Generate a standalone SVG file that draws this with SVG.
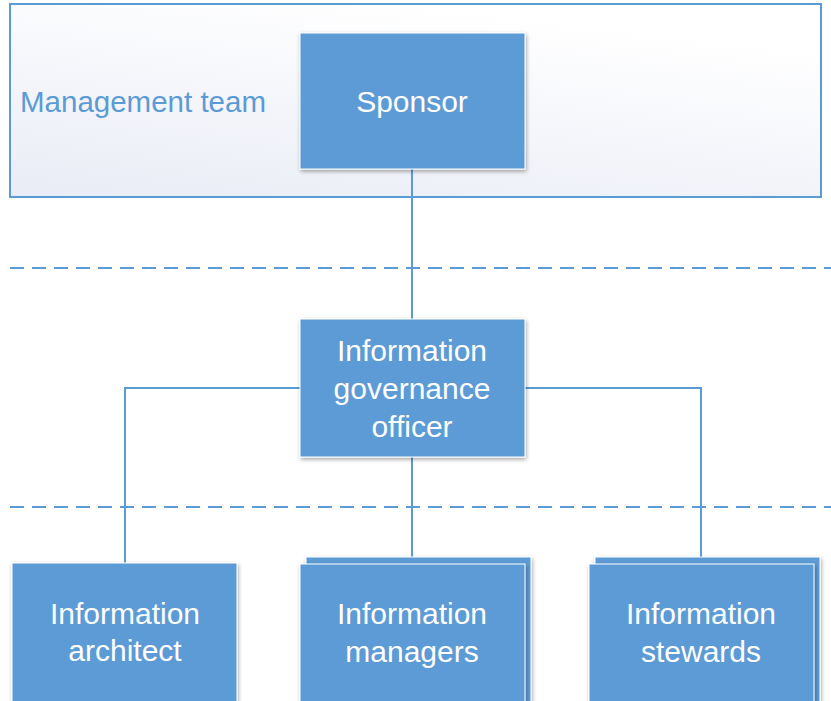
<svg xmlns="http://www.w3.org/2000/svg" width="831" height="701" viewBox="0 0 831 701">
<defs>
<linearGradient id="bg" x1="0" y1="1" x2="0.5" y2="0">
<stop offset="0" stop-color="#e9ecf6"/>
<stop offset="1" stop-color="#ffffff"/>
</linearGradient>
<filter id="sh" x="-10%" y="-10%" width="125%" height="125%">
<feGaussianBlur in="SourceAlpha" stdDeviation="2"/>
<feOffset dx="1" dy="2"/>
<feComponentTransfer><feFuncA type="linear" slope="0.35"/></feComponentTransfer>
<feMerge><feMergeNode/><feMergeNode in="SourceGraphic"/></feMerge>
</filter>
</defs>
<style>
.box{fill:#5b9bd5;stroke:#ffffff;stroke-width:1;filter:url(#sh)}
.t{font-family:"Liberation Sans",Arial,sans-serif;font-size:30px;fill:#ffffff;text-anchor:middle}
.ln{fill:none;stroke:#5b9bd5;stroke-width:2}
.dash{fill:none;stroke:#5b9bd5;stroke-width:2;stroke-dasharray:14 8}
</style>
<rect width="831" height="701" fill="#ffffff"/>
<g id="management-team">
<rect x="10" y="4" width="811" height="193" fill="url(#bg)" stroke="#5b9bd5" stroke-width="2"/>
<text x="143" y="112" style="font-family:'Liberation Sans',Arial,sans-serif;font-size:29.5px;fill:#5b9bd5;text-anchor:middle">Management team</text>
</g>
<g id="dividers">
<line class="dash" x1="10" y1="268" x2="831" y2="268"/>
<line class="dash" x1="10" y1="507" x2="831" y2="507"/>
</g>
<g id="connectors">
<line class="ln" x1="412" y1="168" x2="412" y2="319"/>
<polyline class="ln" points="300,388 125,388 125,563"/>
<polyline class="ln" points="525,388 701,388 701,563"/>
<line class="ln" x1="412" y1="457" x2="412" y2="565"/>
</g>
<g id="sponsor">
<rect class="box" x="300" y="33" width="225" height="136"/>
<text class="t" x="412" y="112">Sponsor</text>
</g>
<g id="governance-officer">
<rect class="box" x="300" y="319" width="225" height="138"/>
<text class="t" x="412" y="361">Information</text>
<text class="t" x="412" y="399">governance</text>
<text class="t" x="412" y="437">officer</text>
</g>
<g id="architect">
<rect class="box" x="12" y="563" width="225" height="145"/>
<text class="t" x="125" y="624">Information</text>
<text class="t" x="125" y="661">architect</text>
</g>
<g id="managers">
<rect class="box" x="306" y="557" width="225" height="150"/>
<rect class="box" x="300" y="564" width="225" height="145"/>
<text class="t" x="412" y="624">Information</text>
<text class="t" x="412" y="662">managers</text>
</g>
<g id="stewards">
<rect class="box" x="595" y="557" width="225" height="150"/>
<rect class="box" x="589" y="564" width="225" height="145"/>
<text class="t" x="701" y="624">Information</text>
<text class="t" x="701" y="662">stewards</text>
</g>
</svg>
